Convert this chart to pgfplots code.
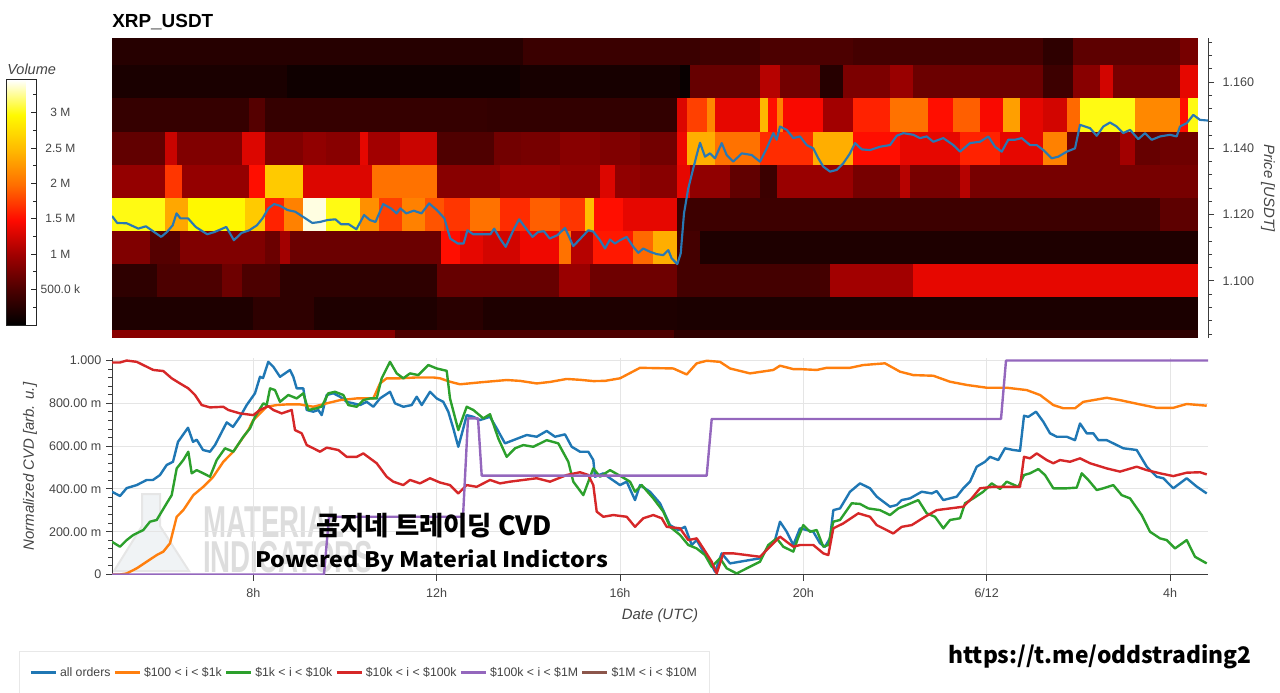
\documentclass[border=0pt]{standalone}
\usepackage{graphicx}
\usepackage{pgfplots}
\pgfplotsset{compat=1.18}
\usepackage{pgfplotstable}
\usepackage{fontspec}
\setmainfont{Liberation Sans}
\newfontfamily\krfont{Noto Sans CJK KR}
\definecolor{cblue}{RGB}{31,119,180}
\definecolor{corange}{RGB}{255,127,14}
\definecolor{cgreen}{RGB}{44,160,44}
\definecolor{cred}{RGB}{214,39,40}
\definecolor{cpurple}{RGB}{148,103,189}
\definecolor{cbrown}{RGB}{140,86,75}
\definecolor{pblue}{RGB}{40,120,180}
\definecolor{tickgray}{RGB}{68,68,68}
\definecolor{gridgray}{RGB}{229,229,229}
\definecolor{axgray}{RGB}{60,60,60}
\definecolor{wmgray}{RGB}{221,221,221}
\definecolor{leggray}{RGB}{232,232,232}
\definecolor{flaskfill}{RGB}{240,243,245}
\definecolor{flaskline}{RGB}{230,230,230}
\pgfplotsset{colormap={heat}{rgb255(0cm)=(0,0,0) rgb255(1cm)=(75,0,0) rgb255(2cm)=(160,0,0) rgb255(3cm)=(255,10,0) rgb255(4cm)=(255,110,0) rgb255(5cm)=(255,185,0) rgb255(6cm)=(255,250,0) rgb255(7cm)=(255,255,255)}}

% heatmap cells: left edge a, right edge b (reference pixel columns), price band lo..hi, volume v [M]
\pgfplotstableread{
a b lo hi v
112 523 1.165 1.1733 0.25
523 700 1.165 1.1733 0.38
700 760 1.165 1.1733 0.42
760 853 1.165 1.1733 0.5
853 1043 1.165 1.1733 0.45
1043 1073 1.165 1.1733 0.3
1073 1180 1.165 1.1733 0.6
1180 1197 1.165 1.1733 0.75
112 287 1.155 1.165 0.17
287 520 1.155 1.165 0.1
520 680 1.155 1.165 0.15
680 690 1.155 1.165 0.05
690 760 1.155 1.165 0.65
760 780 1.155 1.165 1.1
780 820 1.155 1.165 0.72
820 843 1.155 1.165 0.25
843 890 1.155 1.165 0.78
890 913 1.155 1.165 0.95
913 1043 1.155 1.165 0.68
1043 1073 1.155 1.165 0.4
1073 1100 1.155 1.165 0.85
1100 1113 1.155 1.165 1.25
1113 1180 1.155 1.165 0.75
1180 1197 1.155 1.165 1.35
112 249 1.145 1.155 0.35
249 265 1.145 1.155 0.55
265 487 1.145 1.155 0.35
487 677 1.145 1.155 0.33
677 687 1.145 1.155 1.3
687 707 1.145 1.155 1.75
707 715 1.145 1.155 2.15
715 760 1.145 1.155 1.35
760 768 1.145 1.155 2.45
768 777 1.145 1.155 1.5
777 783 1.145 1.155 2.1
783 823 1.145 1.155 1.45
823 853 1.145 1.155 1.0
853 890 1.145 1.155 1.6
890 928 1.145 1.155 2.0
928 953 1.145 1.155 1.5
953 980 1.145 1.155 1.9
980 1003 1.145 1.155 1.45
1003 1020 1.145 1.155 2.3
1020 1043 1.145 1.155 1.35
1043 1067 1.145 1.155 1.25
1067 1080 1.145 1.155 1.95
1080 1135 1.145 1.155 3.0
1135 1180 1.145 1.155 2.15
1180 1188 1.145 1.155 1.5
1188 1197 1.145 1.155 3.0
112 165 1.135 1.145 0.62
165 177 1.135 1.145 1.2
177 242 1.135 1.145 0.8
242 265 1.135 1.145 1.3
265 303 1.135 1.145 0.8
303 326 1.135 1.145 0.9
326 360 1.135 1.145 0.85
360 368 1.135 1.145 1.35
368 400 1.135 1.145 1.0
400 437 1.135 1.145 1.2
437 494 1.135 1.145 0.52
494 521 1.135 1.145 0.72
521 560 1.135 1.145 0.75
560 600 1.135 1.145 0.85
600 640 1.135 1.145 0.8
640 677 1.135 1.145 0.72
677 687 1.135 1.145 1.4
687 715 1.135 1.145 2.4
715 760 1.135 1.145 2.0
760 813 1.135 1.145 1.65
813 853 1.135 1.145 2.4
853 900 1.135 1.145 1.5
900 960 1.135 1.145 1.35
960 1000 1.135 1.145 1.6
1000 1043 1.135 1.145 1.35
1043 1067 1.135 1.145 2.1
1067 1120 1.135 1.145 0.75
1120 1135 1.135 1.145 1.0
1135 1160 1.135 1.145 0.65
1160 1197 1.135 1.145 0.7
112 165 1.125 1.135 0.92
165 182 1.125 1.135 1.7
182 249 1.125 1.135 0.92
249 265 1.125 1.135 1.5
265 303 1.125 1.135 2.6
303 372 1.125 1.135 1.3
372 437 1.125 1.135 2.0
437 500 1.125 1.135 0.85
500 560 1.125 1.135 0.95
560 600 1.125 1.135 0.9
600 615 1.125 1.135 1.3
615 640 1.125 1.135 0.9
640 677 1.125 1.135 0.85
677 690 1.125 1.135 1.35
690 730 1.125 1.135 0.9
730 760 1.125 1.135 0.62
760 777 1.125 1.135 0.39
777 853 1.125 1.135 0.95
853 900 1.125 1.135 0.75
900 910 1.125 1.135 1.1
910 960 1.125 1.135 0.75
960 970 1.125 1.135 1.1
970 1197 1.125 1.135 0.75
112 165 1.115 1.125 3.0
165 188 1.115 1.125 2.35
188 245 1.115 1.125 2.95
245 265 1.115 1.125 2.6
265 284 1.115 1.125 1.6
284 303 1.115 1.125 2.1
303 326 1.115 1.125 3.4
326 360 1.115 1.125 3.0
360 379 1.115 1.125 2.2
379 402 1.115 1.125 1.75
402 425 1.115 1.125 2.1
425 444 1.115 1.125 1.85
444 470 1.115 1.125 1.7
470 500 1.115 1.125 2.0
500 530 1.115 1.125 1.65
530 560 1.115 1.125 1.9
560 585 1.115 1.125 1.7
585 594 1.115 1.125 2.5
594 623 1.115 1.125 1.5
623 677 1.115 1.125 1.35
677 1160 1.115 1.125 0.4
1160 1197 1.115 1.125 0.6
112 150 1.105 1.115 0.8
150 180 1.105 1.115 0.55
180 265 1.105 1.115 0.8
265 280 1.105 1.115 0.68
280 290 1.105 1.115 1.0
290 441 1.105 1.115 0.68
441 460 1.105 1.115 1.5
460 483 1.105 1.115 1.35
483 520 1.105 1.115 1.25
520 559 1.105 1.115 1.4
559 571 1.105 1.115 2.0
571 593 1.105 1.115 1.1
593 633 1.105 1.115 1.55
633 653 1.105 1.115 1.95
653 677 1.105 1.115 2.4
677 700 1.105 1.115 0.45
700 1197 1.105 1.115 0.2
112 157 1.095 1.105 0.3
157 222 1.095 1.105 0.5
222 242 1.095 1.105 0.7
242 280 1.095 1.105 0.5
280 437 1.095 1.105 0.3
437 559 1.095 1.105 0.65
559 590 1.095 1.105 0.95
590 677 1.095 1.105 0.7
677 830 1.095 1.105 0.45
830 913 1.095 1.105 1.0
913 1197 1.095 1.105 1.35
112 253 1.085 1.095 0.2
253 314 1.085 1.095 0.3
314 437 1.085 1.095 0.2
437 483 1.085 1.095 0.27
483 677 1.085 1.095 0.2
677 1197 1.085 1.095 0.18
112 395 1.0829 1.085 0.85
395 674 1.0829 1.085 0.5
674 1197 1.0829 1.085 0.3
}\heat

\pgfplotstableread{
x y
112 1.1196
117.2 1.1175
126.8 1.1174
138.3 1.1158
145.9 1.1165
151.7 1.1153
161.2 1.1133
167 1.1148
172.7 1.1168
176.5 1.1204
180.4 1.1189
188 1.1189
195.7 1.1163
207.2 1.1141
214.8 1.1148
226.3 1.1163
233.9 1.1123
241.6 1.1145
249.3 1.1153
256.9 1.1168
262.6 1.1189
268.4 1.1219
274.1 1.1232
279.9 1.1227
287.5 1.1214
295.2 1.1209
302.8 1.1194
312.4 1.1175
320 1.1178
327.7 1.1184
335.4 1.1186
341.1 1.1171
348.8 1.1171
356.4 1.1156
364.1 1.1199
369.8 1.1184
375.5 1.1178
383.2 1.1232
390.9 1.1219
396.6 1.1204
400.4 1.1219
406.2 1.1204
413.8 1.1212
421.5 1.1204
429.1 1.1234
436.8 1.1214
444.4 1.1189
450.2 1.1128
457.8 1.1113
463.6 1.1113
467.4 1.1153
473.1 1.1141
482.7 1.1141
490.4 1.1141
494.2 1.1158
499.9 1.1128
505.7 1.1103
513.3 1.1153
519.1 1.1186
524.8 1.1163
532.5 1.1133
538.2 1.1148
543.9 1.115
549.7 1.1128
557.3 1.1138
565 1.1160
573.3 1.1105
578.3 1.1121
588.3 1.1153
593.3 1.1149
600 1.1123
605 1.1098
610 1.1125
615 1.1113
620 1.1123
626.7 1.1133
633.3 1.1103
638.3 1.1085
643.3 1.1098
650 1.1088
656.7 1.1081
663.3 1.1078
668.3 1.1093
671.7 1.1068
677.3 1.1051
680.7 1.1083
684 1.1204
688.3 1.128
693.3 1.134
696.7 1.138
700 1.1417
705 1.1375
710 1.1385
715 1.137
721.7 1.1416
726.7 1.138
733.3 1.136
741.7 1.1385
751.7 1.138
760 1.1360
766.7 1.14
773.3 1.1446
776.7 1.1426
780 1.1466
786.7 1.1456
793.3 1.1431
800 1.1436
806.7 1.141
813.3 1.14
818.3 1.137
823.3 1.1345
830 1.133
836.7 1.1335
843.3 1.1355
850 1.1385
855 1.1416
861.7 1.1397
870 1.1395
880 1.1405
890 1.141
896.7 1.1438
903.3 1.1446
913.3 1.1441
920 1.1431
926.7 1.1436
933.3 1.142
943.3 1.1431
953.3 1.141
960 1.139
970 1.1416
980 1.142
988.3 1.1436
995 1.1405
1001.7 1.139
1008.3 1.1426
1015 1.1426
1021.7 1.1431
1030 1.141
1036.7 1.141
1043.3 1.1395
1051.7 1.137
1058.3 1.1375
1066.7 1.139
1075 1.14
1080 1.1471
1085 1.1466
1090 1.1461
1096.7 1.1438
1103.3 1.1466
1110 1.1478
1116.7 1.1466
1123.3 1.1446
1130 1.1456
1138.3 1.1428
1145 1.1446
1151.7 1.1426
1160 1.1436
1170 1.1441
1176.7 1.1436
1180 1.1466
1186.7 1.1476
1193.3 1.1501
1200 1.1486
1208 1.1484
}\price

\pgfplotstableread{
x y
112 0.387
120 0.367
126.7 0.404
136.7 0.418
146.7 0.442
153 0.442
160 0.465
166.7 0.512
173 0.527
178 0.62
188 0.686
193 0.62
196.7 0.63
203 0.582
210 0.574
215 0.605
226.7 0.711
233 0.69
240 0.737
246.7 0.792
255 0.847
260 0.924
263 0.918
268.3 0.994
273.3 0.971
280 0.924
290 0.956
293.3 0.924
296.7 0.87
303.3 0.87
306.7 0.769
313.3 0.761
318.3 0.769
321.7 0.745
326.7 0.839
333.3 0.847
340 0.831
346.7 0.807
353.3 0.8
360 0.792
366.7 0.807
373.3 0.784
380 0.823
390 0.854
395 0.8
403.3 0.784
411.7 0.792
416.7 0.831
421.7 0.792
430 0.854
436.7 0.823
443.3 0.807
448.3 0.761
453.3 0.683
458.3 0.597
463.3 0.683
466.7 0.745
473.3 0.737
480 0.722
490 0.737
496.7 0.683
505 0.613
513.3 0.628
526.7 0.652
536.7 0.644
546.7 0.671
555 0.644
565 0.655
571.7 0.597
580 0.574
588.3 0.574
593.3 0.535
595 0.457
603.3 0.473
610 0.45
620 0.418
626.7 0.434
635 0.348
640 0.418
650 0.387
660 0.333
670 0.231
678.3 0.208
685 0.223
691.7 0.138
696.7 0.161
703.3 0.107
710 0.06
715 0.013
721.7 0.099
730 0.052
740 0.06
750 0.068
760 0.076
770 0.138
775 0.161
780 0.247
786.7 0.2
793.3 0.138
800 0.216
806.7 0.208
813.3 0.2
820 0.146
825 0.13
830 0.17
833.3 0.301
840 0.309
850 0.387
860 0.426
870 0.403
876.7 0.364
890 0.317
896.7 0.325
901.7 0.348
910 0.356
921.7 0.387
931.7 0.379
936.7 0.39
943.3 0.348
956.7 0.364
963.3 0.403
970 0.434
976.7 0.504
985 0.527
990 0.55
998.3 0.535
1005 0.59
1013.3 0.582
1020 0.578
1024 0.742
1028.3 0.737
1036 0.761
1043.3 0.714
1050 0.66
1056.7 0.644
1066.7 0.644
1075 0.628
1080 0.706
1086.7 0.66
1093.3 0.66
1098.3 0.628
1106.7 0.628
1113.3 0.613
1123.3 0.59
1136.7 0.582
1146.7 0.504
1156.7 0.457
1163.3 0.45
1173.3 0.403
1186.7 0.45
1196.7 0.411
1206.7 0.379
}\cvdall

\pgfplotstableread{
x y
112 0.0
120 0.0
126.7 0.005
136.7 0.029
146.7 0.06
156.7 0.091
163.3 0.107
170 0.146
176.7 0.27
183.3 0.301
193.3 0.371
203.3 0.41
213.3 0.457
223.3 0.527
233.3 0.574
240 0.62
248.3 0.675
253.3 0.722
260 0.753
266.7 0.784
276.7 0.792
286.7 0.795
300 0.795
313.3 0.784
326.7 0.8
340 0.815
356.7 0.823
373.3 0.823
380 0.893
386.7 0.917
400 0.917
416.7 0.921
433.3 0.921
440 0.917
450 0.901
460 0.889
480 0.898
506.7 0.909
520 0.905
536.7 0.893
550 0.9
566.7 0.914
580 0.91
593.3 0.904
605 0.905
620 0.917
640 0.966
673.3 0.963
686.7 0.935
696.7 0.987
706.7 0.999
720 0.994
730 0.963
750 0.94
773.3 0.956
780 0.976
793.3 0.96
800 0.96
816.7 0.956
826.7 0.966
850 0.966
863.3 0.979
885 0.987
900 0.948
913.3 0.932
933.3 0.929
950 0.901
966.7 0.886
986.7 0.873
1006.7 0.873
1026.7 0.862
1040 0.839
1053.3 0.792
1063.3 0.777
1075 0.777
1083.3 0.807
1106.7 0.826
1120 0.815
1140 0.795
1156.7 0.779
1173.3 0.779
1186.7 0.797
1206.7 0.789
}\cvdsmall

\pgfplotstableread{
x y
112 0.153
120 0.13
126.7 0.161
133.3 0.185
143.3 0.208
150 0.247
156.7 0.255
161.7 0.294
166.7 0.333
171.7 0.371
176.7 0.496
183.3 0.535
188.3 0.574
191.7 0.473
196.7 0.488
203.3 0.473
210 0.457
216.7 0.535
225 0.59
233.3 0.574
243.3 0.644
250 0.683
255 0.737
263.3 0.8
266.7 0.792
270 0.87
275 0.862
280 0.807
288.3 0.839
296.7 0.823
303.3 0.847
308.3 0.769
316.7 0.777
321.7 0.785
328.3 0.847
335 0.854
343.3 0.839
348.3 0.792
356.7 0.784
363.3 0.815
370 0.823
376.7 0.823
381.7 0.917
390 0.994
396.7 0.94
403.3 0.917
410 0.94
418.3 0.932
428.3 0.979
436.7 0.963
446.7 0.952
450 0.823
458.3 0.675
466.7 0.784
473.3 0.769
483.3 0.73
490 0.749
498.3 0.636
506.7 0.55
515 0.59
523.3 0.605
533.3 0.597
546.7 0.628
558.3 0.613
568.3 0.527
573.3 0.434
583.3 0.371
593.3 0.496
600 0.457
610 0.488
621.7 0.457
630 0.434
635 0.387
641.7 0.418
653.3 0.356
663.3 0.294
670 0.223
680 0.185
688.3 0.138
696.7 0.122
705 0.091
711.7 0.036
720 0.076
726.7 0.029
736.7 0.005
746.7 0.029
760 0.06
768.3 0.138
776.7 0.169
783.3 0.13
793.3 0.107
798 0.17
803.3 0.231
810 0.2
816.7 0.208
823.3 0.13
828.3 0.138
833.3 0.247
840 0.255
851.7 0.333
860 0.33
868.3 0.309
880 0.301
890 0.278
898.3 0.309
906.7 0.325
918.3 0.348
926.7 0.286
935 0.27
943.3 0.216
950 0.255
960 0.263
965 0.333
973.3 0.356
983.3 0.387
991.7 0.426
1000 0.4
1006.7 0.434
1018.3 0.41
1024 0.465
1030 0.473
1038.3 0.493
1045 0.465
1053.3 0.403
1066.7 0.403
1076.7 0.406
1081.7 0.473
1088.3 0.442
1096.7 0.395
1103.3 0.403
1113.3 0.418
1121.7 0.371
1130 0.356
1141.7 0.278
1150 0.2
1160 0.169
1166.7 0.161
1175 0.122
1186.7 0.161
1195 0.083
1206.7 0.052
}\cvdmid

\pgfplotstableread{
x y
112 0.991
120 0.991
126.7 1.0
136.7 0.994
146.7 0.971
153.3 0.956
163.3 0.951
171.7 0.917
180 0.893
188.3 0.87
195 0.839
201.7 0.792
210 0.781
223.3 0.784
228.3 0.769
240 0.753
253.3 0.745
260 0.769
268.3 0.787
273.3 0.769
281.7 0.753
291.7 0.769
295 0.675
301.7 0.66
306.7 0.605
313.3 0.59
320 0.574
326.7 0.593
338.3 0.582
346.7 0.55
356.7 0.55
363.3 0.566
370 0.543
376.7 0.52
386.7 0.457
393.3 0.434
403.3 0.418
410 0.442
420 0.426
430 0.45
440 0.43
450 0.418
458.3 0.379
466.7 0.418
476.7 0.41
490 0.442
500 0.426
510 0.434
523.3 0.442
536.7 0.45
550 0.434
566.7 0.465
580 0.478
588.3 0.465
593.3 0.418
596.7 0.294
603.3 0.27
613.3 0.278
626.7 0.27
635 0.223
643.3 0.263
653.3 0.278
661.7 0.263
666.7 0.223
680 0.216
688.3 0.161
696.7 0.169
703.3 0.122
711.7 0.06
716.7 0.005
723.3 0.099
733.3 0.099
746.7 0.091
760 0.083
770 0.13
780 0.177
786.7 0.153
793.3 0.13
800 0.138
813.3 0.138
823.3 0.099
828.3 0.091
833.3 0.216
843.3 0.239
858.3 0.286
870 0.27
876.7 0.231
893.3 0.192
901.7 0.223
911.7 0.231
925 0.27
936.7 0.301
950 0.309
963.3 0.317
971.7 0.356
980 0.403
993.3 0.41
1006.7 0.41
1020 0.41
1024 0.55
1030 0.543
1036.7 0.566
1046.7 0.535
1053.3 0.52
1060 0.535
1070 0.527
1080 0.543
1090 0.52
1106.7 0.496
1120 0.481
1136.7 0.504
1146.7 0.488
1160 0.473
1173.3 0.46
1186.7 0.476
1200 0.478
1206.7 0.468
}\cvdlarge

\pgfplotstableread{
x y
112 0
324 0
329 0.27
463 0.27
468 0.73
478 0.73
481.7 0.462
706.7 0.462
711.7 0.727
1001 0.727
1006 1.0
1208 1.0
}\cvdwhale

\begin{document}
\begin{tikzpicture}
\useasboundingbox (0,0) rectangle (960pt,-519pt);
% watermark (behind the lower chart)
\begin{scope}[x=0.75pt,y=-0.75pt]
  \filldraw[draw=flaskline, line width=1.5pt, fill=flaskfill] (142,494) -- (160,494) -- (160,526) -- (189,571) -- (114,571) -- (142,526) -- cycle;
  \node[anchor=west, inner sep=0, text=wmgray, font=\bfseries\fontsize{33.5pt}{34pt}\selectfont] at (203,522) {\scalebox{0.62}[1]{MATERIAL}};
  \node[anchor=west, inner sep=0, text=wmgray, font=\bfseries\fontsize{33.5pt}{34pt}\selectfont] at (203,557) {\scalebox{0.62}[1]{INDICATORS}};
\end{scope}

% ---------- heatmap + price ----------
\begin{axis}[
  at={(84pt,-28.5pt)}, anchor=north west,
  scale only axis, width=822pt, height=225pt,
  xmin=112, xmax=1208, ymin=1.0828, ymax=1.1733,
  axis x line=none, axis y line*=right,
  axis line style={axgray, line width=0.75pt, -},
  ytick={1.10,1.12,1.14,1.16},
  minor ytick={1.084,1.088,1.092,1.096,1.104,1.108,1.112,1.116,1.124,1.128,1.132,1.136,1.144,1.148,1.152,1.156,1.164,1.168,1.172},
  scaled y ticks=false,
  /pgf/number format/assume math mode=true,
  tick label style={font=\fontsize{9.4pt}{11pt}\selectfont, text=tickgray},
  yticklabel style={xshift=3pt, /pgf/number format/.cd, fixed, fixed zerofill, precision=3},
  tick align=outside, major tick length=4.5pt, minor tick length=3pt,
  tick style={axgray, line width=0.75pt},
  ylabel={Price [USDT]},
  ylabel style={font=\itshape\fontsize{11.2pt}{13pt}\selectfont, text=tickgray, at={(axis description cs:1.0547,0.5)}, anchor=center, rotate=180},
  point meta min=0, point meta max=3.46, colormap name=heat,
  colorbar,
  colorbar style={
    at={(parent axis.north west)}, anchor=north west,
    xshift=-87.75pt, yshift=-31.5pt,
    scale only axis, width=22.5pt, height=183.75pt,
    ytick={0.5,1,1.5,2,2.5,3},
    yticklabels={500.0 k,1 M,1.5 M,2 M,2.5 M,3 M},
    minor ytick={0.25,0.75,1.25,1.75,2.25,2.75,3.25},
    ytick pos=right, yticklabel pos=right,
    tick align=inside, major tick length=3.75pt, minor tick length=2.25pt,
    yticklabel style={anchor=center, xshift=18pt, font=\fontsize{9pt}{11pt}\selectfont, text=tickgray},
    axis line style={black!85, line width=0.75pt},
    tick style={black!85, line width=0.6pt},
  },
  clip marker paths=true,
]
\addplot[scatter, only marks, mark=square*, mark size=0.01pt,
  point meta=\thisrow{v},
  visualization depends on={\thisrow{b}-\thisrow{a} \as \cellw},
  visualization depends on={\thisrow{hi}-\thisrow{lo} \as \cellh},
  scatter/@pre marker code/.append code={%
    \filldraw[draw=mapped color, fill=mapped color, line width=0.4pt] (axis direction cs:0,0) rectangle (axis direction cs:\cellw,\cellh);%
  }]
  table[x=a, y=lo] {\heat};
\addplot[pblue, line width=1.6pt, line join=round, mark=none] table[x=x, y=y] {\price};
\end{axis}

% ---------- CVD ----------
\begin{axis}[
  at={(84pt,-268.8pt)}, anchor=north west,
  scale only axis, width=822pt, height=162.1pt,
  xmin=112, xmax=1208, ymin=0, ymax=1.01,
  axis x line*=bottom, axis y line*=left,
  axis line style={axgray, line width=0.75pt, -},
  xtick={253.3,436.7,620,803.3,986.7,1170},
  xticklabels={8h,12h,16h,20h,6/12,4h},
  ytick={0,0.2,0.4,0.6,0.8,1},
  yticklabels={0,200.00 m,400.00 m,600.00 m,800.00 m,1.000},
  minor y tick num=4,
  grid=major, major grid style={gridgray, line width=0.75pt},
  tick align=outside, major tick length=4.5pt, minor tick length=3pt,
  tick style={axgray, line width=0.75pt},
  tick label style={font=\fontsize{9.4pt}{11pt}\selectfont, text=tickgray},
  xticklabel shift=2.25pt,
  xlabel={Date (UTC)}, ylabel={Normalized CVD [arb. u.]},
  label style={font=\itshape\fontsize{11.2pt}{13pt}\selectfont, text=tickgray},
  xlabel style={at={(axis description cs:0.5,-0.19)}, anchor=center},
  ylabel style={at={(axis description cs:-0.0748,0.5)}, anchor=center},
  legend columns=6,
  legend style={at={(axis description cs:-0.0849,-0.354)}, anchor=north west,
    draw=leggray, line width=0.75pt, fill=white, inner xsep=7.5pt, inner ysep=9.75pt,
    font=\fontsize{9.2pt}{11pt}\selectfont, text=tickgray,
    nodes={inner xsep=2.2pt, inner ysep=2pt},
    /tikz/every even column/.append style={column sep=0pt}},
  legend image code/.code={\draw[#1, line width=2pt] (0pt,0pt) -- (18.75pt,0pt);},
]
\addplot[cblue, line width=1.8pt, line join=round] table[x=x, y=y] {\cvdall};
\addlegendentry{all orders}
\addplot[corange, line width=1.8pt, line join=round] table[x=x, y=y] {\cvdsmall};
\addlegendentry{\$100 < i < \$1k}
\addplot[cgreen, line width=1.8pt, line join=round] table[x=x, y=y] {\cvdmid};
\addlegendentry{\$1k < i < \$10k}
\addplot[cred, line width=1.8pt, line join=round] table[x=x, y=y] {\cvdlarge};
\addlegendentry{\$10k < i < \$100k}
\addplot[cpurple, line width=1.8pt, line join=round] table[x=x, y=y] {\cvdwhale};
\addlegendentry{\$100k < i < \$1M}
\addlegendimage{cbrown, line width=1.8pt}
\addlegendentry{\$1M < i < \$10M}
\end{axis}

% ---------- texts ----------
\begin{scope}[x=0.75pt,y=-0.75pt]
  \node[anchor=west, inner sep=0, font=\bfseries\fontsize{14.2pt}{16pt}\selectfont] at (112,22) {XRP\_USDT};
  \node[anchor=west, inner sep=0, font=\itshape\fontsize{10.9pt}{12pt}\selectfont, text=tickgray] at (7,69) {Volume};
  \node[inner sep=0] at (434,526) {\krfont\bfseries\fontsize{19.8pt}{21pt}\selectfont 곰지네 트레이딩 CVD};
  \node[inner sep=0] at (431.5,560.5) {\scalebox{1.09}[1]{\krfont\bfseries\fontsize{16pt}{18pt}\selectfont Powered By Material Indictors}};
  \node[inner sep=0] at (1100,657) {\krfont\bfseries\fontsize{17.1pt}{19pt}\selectfont https://t.me/oddstrading2};
\end{scope}
\end{tikzpicture}
\end{document}
